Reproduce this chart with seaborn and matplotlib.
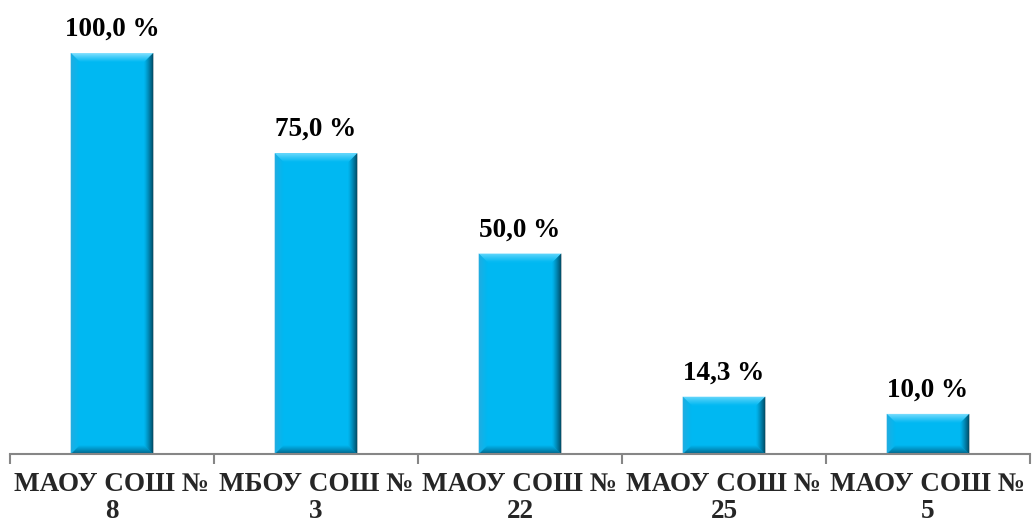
import matplotlib
matplotlib.use("Agg")
import matplotlib.pyplot as plt
from matplotlib.patches import Polygon
from matplotlib.colors import to_rgb
import seaborn as sns
import pandas as pd
import numpy as np

categories = ["МАОУ СОШ №\n8", "МБОУ СОШ №\n3", "МАОУ СОШ №\n22", "МАОУ СОШ №\n25", "МАОУ СОШ №\n5"]
values = [100.0, 75.0, 50.0, 14.3, 10.0]
value_labels = ["100,0 %", "75,0 %", "50,0 %", "14,3 %", "10,0 %"]

sns.set_theme(style="white")
plt.rcParams['font.family'] = ['Liberation Serif', 'DejaVu Serif']

MAIN = "#00B8F2"
df = pd.DataFrame({"cat": categories, "val": values})
fig = plt.figure(figsize=(10.35, 5.27), dpi=100)
ax = fig.add_axes([10/1035, 1-454/527, 1020/1035, 401/527])

sns.barplot(data=df, x="cat", y="val", color=MAIN, saturation=1, width=0.405, ax=ax, edgecolor="none")
ax.set_xlim(-0.5, len(categories)-0.5)
ax.set_ylim(0, 100)
ax.set_xlabel("")
ax.set_ylabel("")
ax.set_yticks([])

def mix(c1, c2, t):
    a, b = np.array(to_rgb(c1)), np.array(to_rgb(c2))
    return tuple(a + (b - a) * t)

edge_cols = {"top": "#8FE3FF", "left": "#2FA8DA", "bottom": "#005A7C", "right": "#00202E"}

fig.canvas.draw()
inv = ax.transData.inverted()
bev = 9  # px
for p, lab in zip(ax.patches[:len(values)], value_labels):
    x0, y0 = p.get_x(), p.get_y()
    w, h = p.get_width(), p.get_height()
    d0 = ax.transData.transform((x0, y0))
    d1 = ax.transData.transform((x0 + w, y0 + h))
    b = min(bev, (d1[1]-d0[1])/2.2)
    def P(px, py):
        return inv.transform((px, py))
    L, R, B, T = d0[0], d1[0], d0[1], d1[1]
    n = 9
    for i in range(n):
        a0 = b * i / n
        a1 = b * (i + 1) / n
        t = (i + 0.5) / n
        sides = {
            "top": [P(L+a0, T-a0), P(R-a0, T-a0), P(R-a1, T-a1), P(L+a1, T-a1)],
            "bottom": [P(L+a0, B+a0), P(R-a0, B+a0), P(R-a1, B+a1), P(L+a1, B+a1)],
            "left": [P(L+a0, B+a0), P(L+a0, T-a0), P(L+a1, T-a1), P(L+a1, B+a1)],
            "right": [P(R-a0, B+a0), P(R-a0, T-a0), P(R-a1, T-a1), P(R-a1, B+a1)],
        }
        for k, poly in sides.items():
            ax.add_patch(Polygon(poly, closed=True, facecolor=mix(edge_cols[k], MAIN, t ** 0.8),
                                 edgecolor="none", antialiased=True))
    ax.text(x0 + w/2, y0 + h + 2.8, lab, ha="center", va="bottom", fontsize=19.5,
            fontweight="bold", color="black")

for s in ["top", "right", "left"]:
    ax.spines[s].set_visible(False)
ax.spines["bottom"].set_color("#868686")
ax.spines["bottom"].set_linewidth(1.5)
ax.spines["bottom"].set_zorder(5)

ax.set_xticks(range(len(categories)))
ax.set_xticklabels(categories, fontsize=19.5, fontweight="bold", linespacing=1.08)
ax.tick_params(axis="x", which="major", length=0, pad=13)
ax.set_xticks(np.arange(-0.5, len(categories), 1.0), minor=True)
ax.tick_params(axis="x", which="minor", length=7, width=1.5, color="#868686", direction="out", bottom=True)

fig.savefig("out.png", dpi=100)
